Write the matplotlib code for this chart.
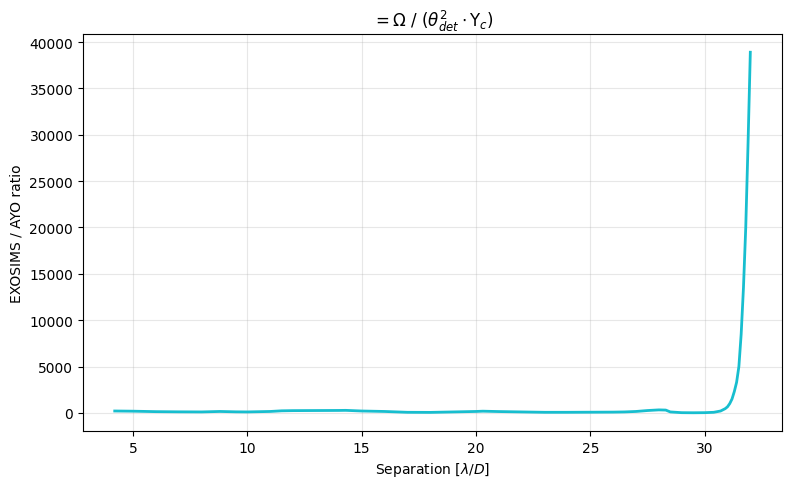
import numpy as np
import matplotlib.pyplot as plt

sep = [4.2, 5.0, 6.0, 7.0, 8.0, 8.8, 9.5, 10.0, 11.0, 11.5, 12.0, 13.0, 14.0, 14.3,
       15.0, 16.0, 17.0, 18.0, 19.0, 20.0, 20.3, 21.0, 22.0, 23.0, 24.0, 25.0,
       26.0, 26.5, 27.0, 27.5, 28.0, 28.3, 28.5, 29.0, 29.5, 30.0, 30.4, 30.7,
       30.9, 31.0, 31.1, 31.2, 31.3, 31.4, 31.5, 31.6, 31.7, 31.8, 31.9, 32.0]
ratio = [200, 180, 130, 110, 100, 150, 110, 100, 150, 220, 240, 250, 260, 270,
         200, 150, 60, 50, 100, 150, 180, 140, 100, 60, 60, 70,
         80, 100, 150, 250, 320, 300, 100, 20, 10, 20, 60, 200,
         450, 650, 1000, 1500, 2300, 3300, 5000, 8500, 13500, 20000, 29000, 38900]

plt.figure(figsize=(7.9, 4.89))
plt.plot(sep, ratio, color="#17becf", linewidth=2)
plt.title(r"$= \Omega\ /\ (\theta_{det}^2 \cdot \Upsilon_c)$")
plt.xlabel(r"Separation [$\lambda/D$]")
plt.ylabel("EXOSIMS / AYO ratio")
plt.grid(True, alpha=0.3)
plt.subplots_adjust(left=0.105, right=0.990, top=0.928, bottom=0.117)
plt.savefig("out.png", dpi=100)
